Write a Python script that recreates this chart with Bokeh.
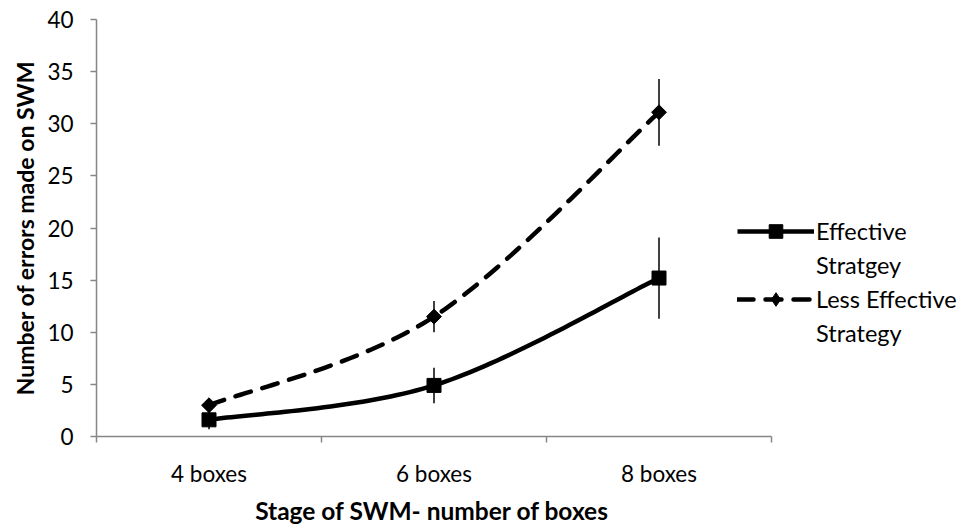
import numpy as np
from bokeh.plotting import figure
from bokeh.models import FixedTicker, Legend, LegendItem, Title
from bokeh.embed import file_html
from bokeh.resources import INLINE

categories = ["4 boxes", "6 boxes", "8 boxes"]
effective = [1.6, 4.9, 15.2]
effective_err = [0.9, 1.7, 3.9]
less_effective = [3.0, 11.5, 31.1]
less_effective_err = [0.5, 1.5, 3.2]
y_ticks = [0, 5, 10, 15, 20, 25, 30, 35, 40]
legend_lines = [["Effective", "Stratgey"], ["Less Effective", "Strategy"]]
x_title = "Stage of SWM- number of boxes"
y_title = "Number of errors made on SWM"

FONT = "Lato"
xpos = np.arange(1, len(categories) + 1, dtype=float)


def smooth(xs, ys, n=40):
    xs = np.asarray(xs, float)
    ys = np.asarray(ys, float)
    px = np.concatenate([[xs[0]], xs, [xs[-1]]])
    py = np.concatenate([[ys[0]], ys, [ys[-1]]])
    outx, outy = [], []
    t = np.linspace(0, 1, n)
    for i in range(len(xs) - 1):
        p0 = np.array([px[i + 1], py[i + 1]])
        p3 = np.array([px[i + 2], py[i + 2]])
        c1 = p0 + (np.array([px[i + 2], py[i + 2]]) - np.array([px[i], py[i]])) / 6
        c2 = p3 - (np.array([px[i + 3], py[i + 3]]) - np.array([px[i + 1], py[i + 1]])) / 6
        bx = (1 - t) ** 3 * p0[0] + 3 * (1 - t) ** 2 * t * c1[0] + 3 * (1 - t) * t ** 2 * c2[0] + t ** 3 * p3[0]
        by = (1 - t) ** 3 * p0[1] + 3 * (1 - t) ** 2 * t * c1[1] + 3 * (1 - t) * t ** 2 * c2[1] + t ** 3 * p3[1]
        if i > 0:
            bx, by = bx[1:], by[1:]
        outx.extend(bx)
        outy.extend(by)
    return outx, outy


W, H = 965, 528
LEFT, TOP, BOTTOM = 96, 19, 91
UNIT = 225.0  # px per category
x_end = 0.5 + (W - LEFT) / UNIT

p = figure(width=W, height=H, output_backend="svg", toolbar_location=None,
           x_range=(0.5, x_end), y_range=(0, 40),
           min_border_left=LEFT, min_border_top=TOP, min_border_bottom=BOTTOM, min_border_right=0)
p.outline_line_color = None
p.xgrid.visible = False
p.ygrid.visible = False
p.background_fill_color = "white"
p.border_fill_color = "white"

axis_color = "#868686"
p.xaxis.bounds = (0.5, len(categories) + 0.5)
p.xaxis.ticker = FixedTicker(ticks=list(xpos), minor_ticks=[0.5, 1.5, 2.5, 3.5])
p.xaxis.major_label_overrides = {int(x): c for x, c in zip(xpos, categories)}
p.xaxis.major_tick_line_color = None
p.xaxis.major_tick_out = 0
p.xaxis.major_tick_in = 0
p.xaxis.minor_tick_out = 6
p.xaxis.minor_tick_in = 0
p.xaxis.minor_tick_line_color = axis_color
p.xaxis.minor_tick_line_width = 1.5
p.xaxis.major_label_standoff = 17

p.yaxis.ticker = FixedTicker(ticks=y_ticks)
p.yaxis.minor_tick_line_color = None
p.yaxis.major_tick_out = 6
p.yaxis.major_tick_in = 0
p.yaxis.major_tick_line_color = axis_color
p.yaxis.major_tick_line_width = 1.5
p.yaxis.major_label_standoff = 17
p.yaxis.axis_label = y_title
p.yaxis.axis_label_standoff = 5
p.yaxis.axis_label_text_font_size = "23px"

for ax in (p.xaxis[0], p.yaxis[0]):
    ax.axis_line_color = axis_color
    ax.axis_line_width = 1.5
    ax.major_label_text_font = FONT
    ax.major_label_text_font_size = "22.5px"
    ax.major_label_text_color = "black"
    ax.axis_label_text_font = FONT
    ax.axis_label_text_font_style = "bold"
    ax.axis_label_text_color = "black"

# x-axis title centred under the category axis (frame extends right for legend)
title_font_px = 24.5
x_title_width = 14.6 * title_font_px  # approx text width for this string in Lato Bold
xt = Title(text=x_title, align="left",
           offset=(len(categories) * UNIT) / 2 - x_title_width / 2,
           text_font=FONT, text_font_size=f"{title_font_px}px", text_font_style="bold",
           text_color="black", standoff=8)
p.add_layout(xt, "below")

# error bars
p.segment(x0=xpos, y0=np.array(effective) - np.array(effective_err),
          x1=xpos, y1=np.array(effective) + np.array(effective_err),
          line_color="black", line_width=1.5)
p.segment(x0=xpos, y0=np.array(less_effective) - np.array(less_effective_err),
          x1=xpos, y1=np.array(less_effective) + np.array(less_effective_err),
          line_color="black", line_width=1.5)

sx, sy = smooth(xpos, effective)
l1 = p.line(sx, sy, line_color="black", line_width=4.5, line_join="round")
m1 = p.scatter(xpos, effective, marker="square", size=14, fill_color="black", line_color="black")

lx, ly = smooth(xpos, less_effective)
l2 = p.line(lx, ly, line_color="black", line_width=4.5, line_dash="16 12",
            line_cap="round", line_join="round")
# diamond used as legend key (drawn beneath, fully covered by the rotated squares)
m2_key = p.scatter(xpos, less_effective, marker="diamond", size=13, fill_color="black", line_color="black")
m2 = p.scatter(xpos, less_effective, marker="square", size=10.5, angle=np.pi / 4,
               fill_color="black", line_color="black")

blank = p.line([], [], line_alpha=0)

legend = Legend(items=[
    LegendItem(label=legend_lines[0][0], renderers=[l1, m1]),
    LegendItem(label=legend_lines[0][1], renderers=[blank]),
    LegendItem(label=legend_lines[1][0], renderers=[l2, m2_key]),
    LegendItem(label=legend_lines[1][1], renderers=[blank]),
], location=(641, 86))
legend.glyph_width = 77
legend.glyph_height = 34
legend.label_height = 20
legend.label_standoff = 2
legend.label_text_font = FONT
legend.label_text_font_size = "23.5px"
legend.label_text_color = "black"
legend.border_line_color = None
legend.background_fill_alpha = 0
legend.spacing = 0
legend.padding = 4
legend.margin = 0
p.add_layout(legend, "center")

open("out.html", "w").write(file_html(p, INLINE))
